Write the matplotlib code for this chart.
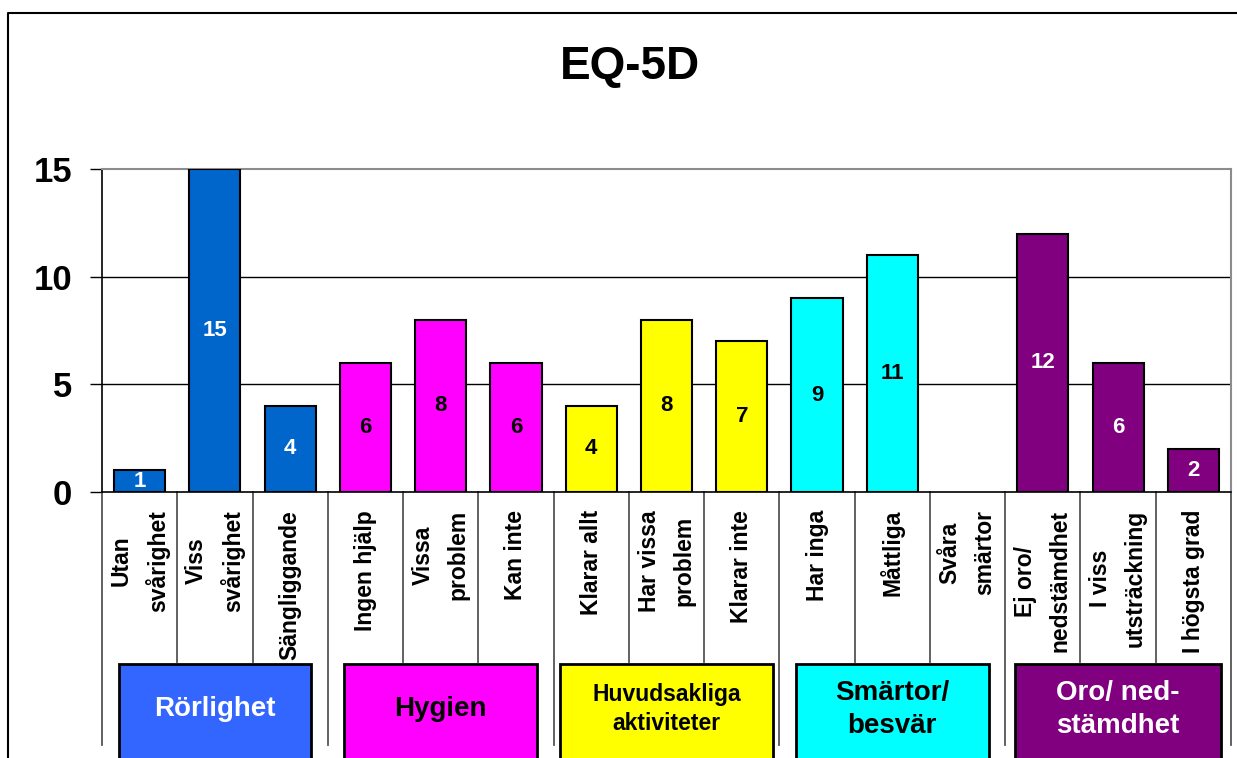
import matplotlib
matplotlib.use("Agg")
import matplotlib.pyplot as plt
import matplotlib.transforms as mtransforms
from matplotlib.patches import Rectangle
from matplotlib.lines import Line2D

plt.rcParams['font.family'] = ['Liberation Sans', 'DejaVu Sans']

# ---- data ----
title = "EQ-5D"
categories = ["Utan\nsvårighet", "Viss\nsvårighet", "Sängliggande",
              "Ingen hjälp", "Vissa\nproblem", "Kan inte",
              "Klarar allt", "Har vissa\nproblem", "Klarar inte",
              "Har inga", "Måttliga", "Svåra\nsmärtor",
              "Ej oro/\nnedstämdhet", "I viss\nutsträckning", "I högsta grad"]
values = [1, 15, 4, 6, 8, 6, 4, 8, 7, 9, 11, 0, 12, 6, 2]
groups = ["Rörlighet", "Hygien", "Huvudsakliga\naktiviteter",
          "Smärtor/\nbesvär", "Oro/ ned-\nstämdhet"]
yticks = [0, 5, 10, 15]

# ---- styles ----
bar_colors = ["#0066CC", "#FF00FF", "#FFFF00", "#00FFFF", "#800080"]
box_colors = ["#3366FF", "#FF00FF", "#FFFF00", "#00FFFF", "#800080"]
bar_text_colors = ["white", "black", "black", "black", "white"]
box_text_colors = ["white", "black", "black", "black", "white"]
box_widths = [2.56, 2.56, 2.82, 2.56, 2.74]
box_font = [20, 20, 16.5, 20, 20]
per_group = 3

W, H = 1237, 758
fig = plt.figure(figsize=(W / 100, H / 100), dpi=100)
ax = fig.add_axes([102 / W, 1 - 492 / H, (1231 - 102) / W, (492 - 169) / H])

n = len(values)
xs = list(range(n))
cols = [bar_colors[i // per_group] for i in xs]
lws = [1.5 if v > 0 else 0 for v in values]
bars = ax.bar(xs, values, width=0.68, color=cols, edgecolor="black",
              linewidth=lws, zorder=3)

for i, (b, v) in enumerate(zip(bars, values)):
    if v > 0:
        ax.text(b.get_x() + b.get_width() / 2, v / 2, str(v),
                ha="center", va="center", fontsize=16, fontweight="bold",
                color=bar_text_colors[i // per_group], zorder=4)

ax.set_xlim(-0.5, n - 0.5)
ax.set_ylim(0, 15)
ax.set_yticks(yticks)
ax.set_yticklabels([str(t) for t in yticks], fontsize=25, fontweight="bold")
ax.tick_params(axis="y", length=8.6, width=1, pad=13, direction="out")

ax.set_xticks(xs)
ax.set_xticklabels(categories, rotation=90, fontsize=16.5, fontweight="bold",
                   linespacing=1.65, multialignment="center")
ax.tick_params(axis="x", length=0, pad=13)

ax.yaxis.grid(True, color="black", linewidth=1)
ax.set_axisbelow(True)
ax.get_ygridlines()[-1].set_visible(False)
ax.get_ygridlines()[0].set_visible(False)

for s in ["top", "right"]:
    ax.spines[s].set_color("#8c8c8c")
    ax.spines[s].set_linewidth(1.5)
for s in ["left", "bottom"]:
    ax.spines[s].set_color("black")
    ax.spines[s].set_linewidth(1.2)

trans = mtransforms.blended_transform_factory(ax.transData, ax.transAxes)
ax_h = 492 - 169
short_end = -(662 - 492) / ax_h
long_end = -(745 - 492) / ax_h
for k in range(n + 1):
    x = k - 0.5
    y_end = long_end if k % per_group == 0 else short_end
    ax.plot([x, x], [0, y_end], transform=trans, clip_on=False,
            color="#555555", linewidth=1.3, zorder=1)

box_top = -(664 - 492) / ax_h
box_bottom = -(800 - 492) / ax_h
text_y = -(709 - 492) / ax_h
for g, name in enumerate(groups):
    center = g * per_group + (per_group - 1) / 2
    w = box_widths[g]
    rect = Rectangle((center - w / 2, box_bottom), w, box_top - box_bottom,
                     transform=trans, clip_on=False, facecolor=box_colors[g],
                     edgecolor="black", linewidth=2, zorder=5)
    ax.add_patch(rect)
    ax.text(center, text_y, name, transform=trans, ha="center", va="center",
            fontsize=box_font[g], fontweight="bold", color=box_text_colors[g],
            linespacing=1.35, zorder=6, clip_on=False)

fig.text(630 / W, 1 - 67 / H, title, ha="center", va="center",
         fontsize=33, fontweight="bold")

# outer chart frame
fig.add_artist(Line2D([8 / W, 8 / W, 1.0], [0.0, 1 - 13 / H, 1 - 13 / H],
                      transform=fig.transFigure, color="black", linewidth=1.5))

fig.savefig("out.png", dpi=100)
